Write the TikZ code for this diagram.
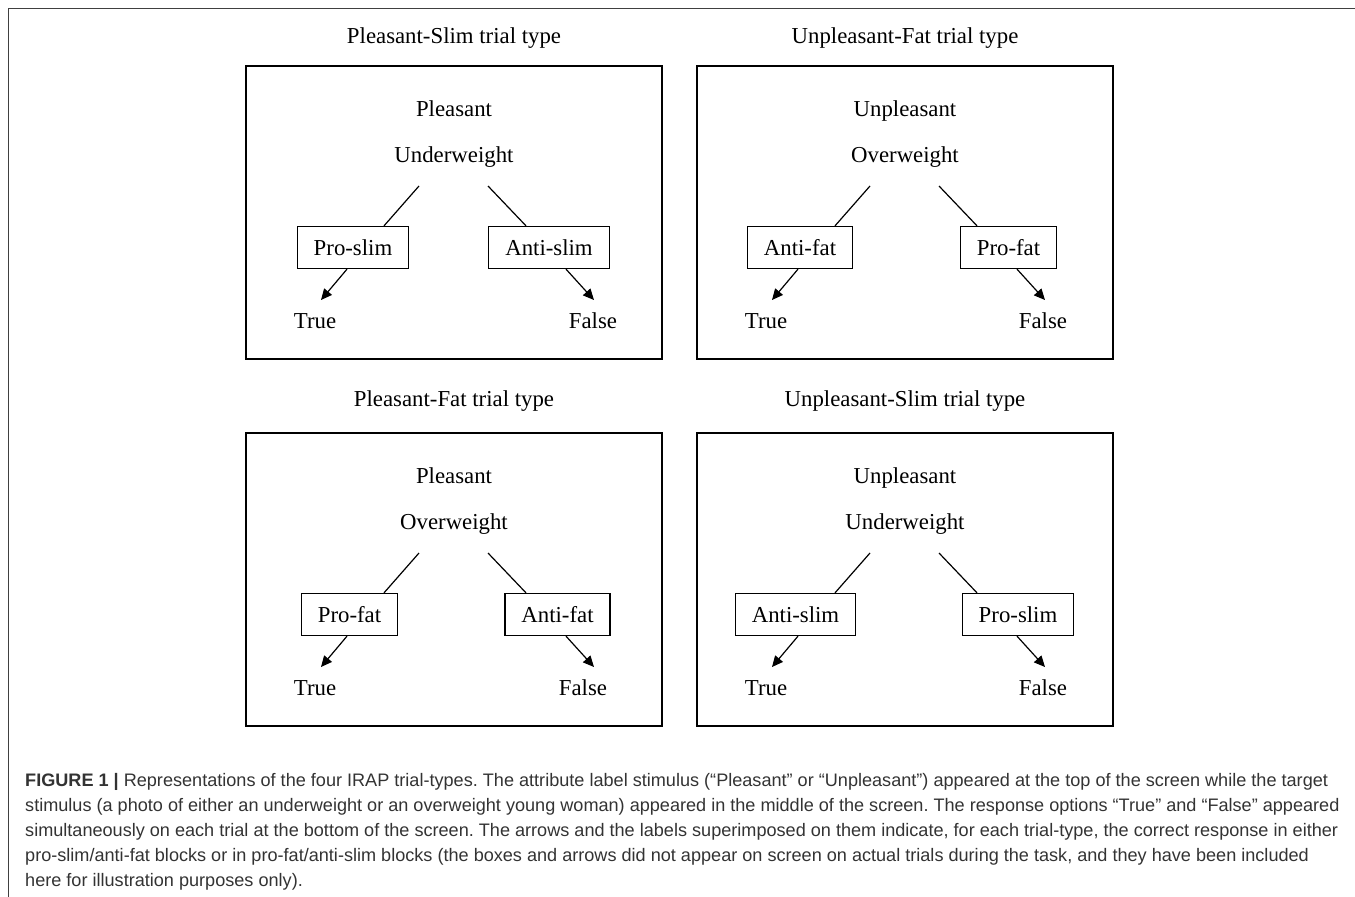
\documentclass[tikz,border=0pt]{standalone}
\usepackage{fontspec}
\setmainfont{Liberation Serif}
\setsansfont{Liberation Sans}
\usetikzlibrary{arrows.meta}

\definecolor{captext}{HTML}{333333}
\definecolor{rulegray}{HTML}{404040}

\tikzset{
	panel/.style={draw, line width=1.3pt, minimum width=416pt, minimum height=293pt, inner sep=0pt},
	word/.style={font=\fontsize{22.8}{27}\selectfont, inner sep=0pt},
	choice/.style={draw, line width=1.3pt, font=\fontsize{22.8}{27}\selectfont, inner xsep=16.5pt, inner ysep=0pt, minimum height=42pt},
	link/.style={line width=1.2pt},
	arr/.style={line width=1.2pt, -{Triangle[length=11pt,width=10pt]}},
	capline/.style={anchor=base west, inner sep=0pt, text=captext, font=\sffamily\fontsize{18.1}{21}\selectfont}
}

\begin{document}
\frenchspacing
\begin{tikzpicture}[x=1pt, y=-1pt]
		\useasboundingbox (0,0) rectangle (1355,897);
		%outer rule
		\draw[rulegray, line width=1.7pt] (1355,8.5) -- (8.5,8.5) -- (8.5,897);
		
		%the four trial types
		\foreach \px/\py/\ty/\ttl/\att/\tgt/\lb/\lx/\rb/\rx/\fx/\n in {
			246/66/-23/Pleasant-Slim/Pleasant/Underweight/Pro-slim/107/Anti-slim/303/347/a,
			697/66/-23/Unpleasant-Fat/Unpleasant/Overweight/Anti-fat/103/Pro-fat/311.5/346/b,
			246/433/-27/Pleasant-Fat/Pleasant/Overweight/Pro-fat/103.5/Anti-fat/311.5/337/c,
			697/433/-27/Unpleasant-Slim/Unpleasant/Underweight/Anti-slim/98.5/Pro-slim/321/346/d}{
			\begin{scope}[shift={(\px,\py)}]
				\node[panel] (\n-frame) at (208,146.5) {};
				\node[word, anchor=base] (\n-title) at (208,\ty) {\ttl\ trial type};
				\node[word, anchor=base] (\n-attr) at (208,50) {\att};
				\node[word, anchor=base] (\n-tgt) at (208,96) {\tgt};
				\node[choice] (\n-left) at (\lx,181.5) {\lb};
				\node[choice] (\n-right) at (\rx,181.5) {\rb};
				\node[word, anchor=base] (\n-true) at (69,262) {True};
				\node[word, anchor=base] (\n-false) at (\fx,262) {False};
				
				\coordinate (\n-la) at (173,120);
				\coordinate (\n-ra) at (242,120);
				\coordinate (\n-lb) at (138,0);
				\coordinate (\n-rb) at (280,0);
				\coordinate (\n-ls) at (101,0);
				\coordinate (\n-rs) at (320,0);
				\coordinate (\n-lt) at (75,234);
				\coordinate (\n-rt) at (348,234);
				
				\draw[link] (\n-la) -- (\n-left.north -| \n-lb);
				\draw[link] (\n-ra) -- (\n-right.north -| \n-rb);
				\draw[arr] (\n-left.south -| \n-ls) -- (\n-lt);
				\draw[arr] (\n-right.south -| \n-rs) -- (\n-rt);
			\end{scope}
		}
		
		%caption
		\node[capline] (cap1) at (25,786) {\textbf{FIGURE 1 |} Representations of the four IRAP trial-types. The attribute label stimulus (“Pleasant” or “Unpleasant”) appeared at the top of the screen while the target};
		\node[capline] (cap2) at (25,811.2) {stimulus (a photo of either an underweight or an overweight young woman) appeared in the middle of the screen. The response options “True” and “False” appeared};
		\node[capline] (cap3) at (25,836.4) {simultaneously on each trial at the bottom of the screen. The arrows and the labels superimposed on them indicate, for each trial-type, the correct response in either};
		\node[capline] (cap4) at (25,861.6) {pro-slim/anti-fat blocks or in pro-fat/anti-slim blocks (the boxes and arrows did not appear on screen on actual trials during the task, and they have been included};
		\node[capline] (cap5) at (25,886.8) {here for illustration purposes only).};
\end{tikzpicture}
\end{document}
